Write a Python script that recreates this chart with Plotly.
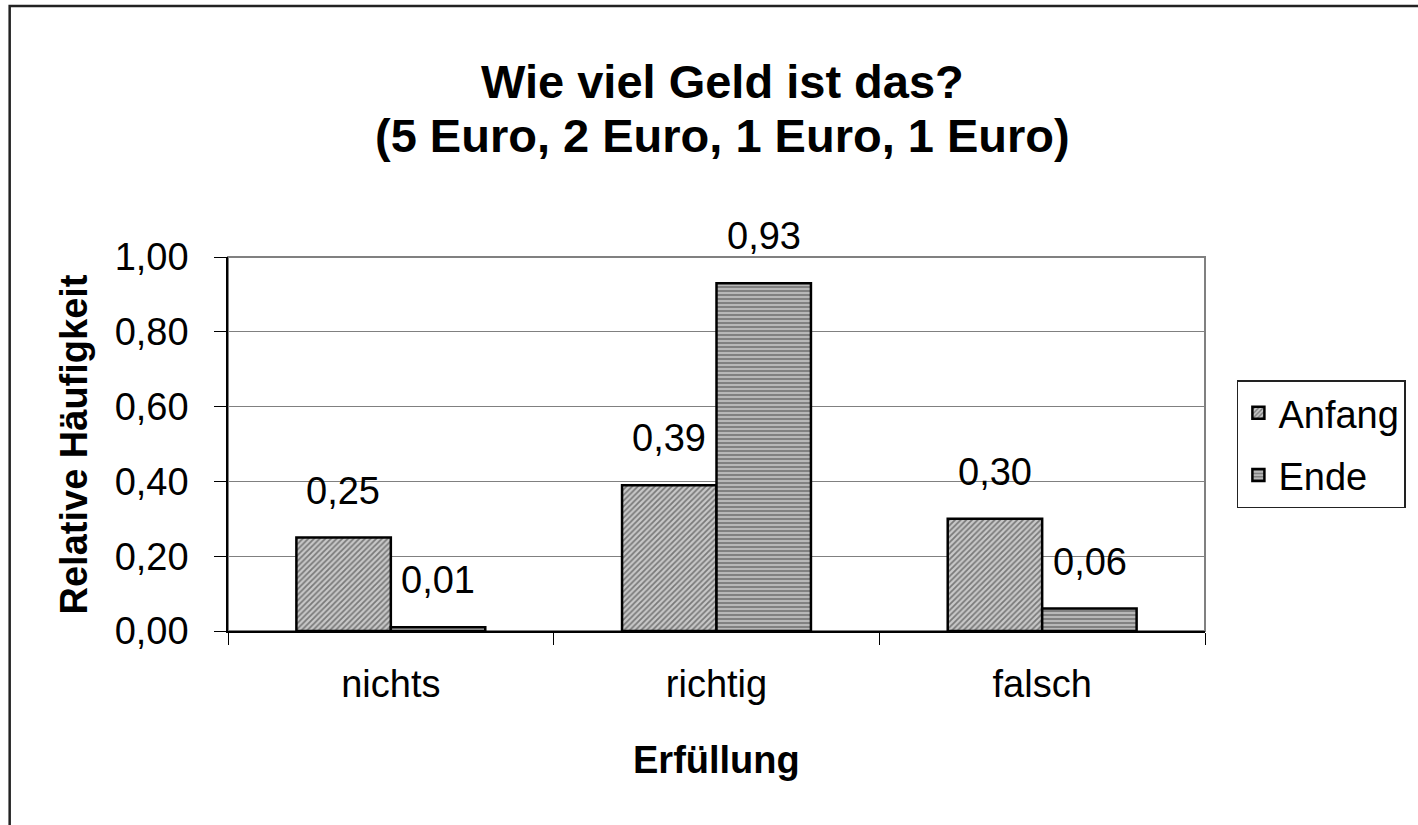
import plotly.graph_objects as go

# data
categories = ["nichts", "richtig", "falsch"]
anfang = [0.25, 0.39, 0.30]
ende = [0.01, 0.93, 0.06]
series_names = ["Anfang", "Ende"]
y_ticks = [0.0, 0.2, 0.4, 0.6, 0.8, 1.0]
title_lines = ["Wie viel Geld ist das?", "(5 Euro, 2 Euro, 1 Euro, 1 Euro)"]

W, H = 1418, 825
L, R, T, B = 228, 210, 257, 194
plot_w = W - L - R
plot_h = H - T - B
BARGAP = 0.42

FONT = "Liberation Sans, Arial, sans-serif"
LBL = 38


def de(v):
    # German decimal comma
    return f"{v:.2f}".replace(".", ",")


def px_x(px):
    return (px - L) / plot_w


def px_y(py):
    return (H - B - py) / plot_h


fig = go.Figure()

fig.add_trace(go.Bar(
    x=categories, y=anfang, name=series_names[0], legendgroup="a",
    marker=dict(color="#ffffff",
                line=dict(color="black", width=2.5),
                pattern=dict(shape="/", fgcolor="#2a2a2a", bgcolor="#c8c8c8",
                             size=4, solidity=0.45)),
))
fig.add_trace(go.Bar(
    x=categories, y=ende, name=series_names[1], legendgroup="e",
    marker=dict(color="#ffffff",
                line=dict(color="black", width=2.5),
                pattern=dict(shape="-", fgcolor="#4a4a4a", bgcolor="#b8b8b8",
                             size=4, solidity=0.5)),
))

# value labels above the bars
cat_w = plot_w / len(categories)
bar_w = cat_w * (1 - BARGAP) / 2
annos = []
for vals, off in ((anfang, -bar_w / 2), (ende, bar_w / 2)):
    for c, v in zip(categories, vals):
        annos.append(dict(x=c, y=v, xref="x", yref="y", text=de(v),
                          showarrow=False, yanchor="bottom", xshift=off, yshift=24,
                          font=dict(family=FONT, size=LBL, color="black")))

# two-line title, placed line by line for tighter spacing
for line, ypx in zip(title_lines, (82, 135)):
    annos.append(dict(x=px_x(724), y=px_y(ypx), xref="paper", yref="paper",
                      xanchor="center", yanchor="middle", showarrow=False,
                      text=f"<b>{line}</b>",
                      font=dict(family=FONT, size=47, color="black")))

# axis titles
annos.append(dict(x=px_x(74), y=0.5, xref="paper", yref="paper",
                  xanchor="center", yanchor="middle",
                  text="<b>Relative Häufigkeit</b>", textangle=-90, showarrow=False,
                  font=dict(family=FONT, size=LBL, color="black")))
annos.append(dict(x=0.5, y=px_y(760), xref="paper", yref="paper",
                  xanchor="center", yanchor="middle",
                  text="<b>Erfüllung</b>", showarrow=False,
                  font=dict(family=FONT, size=LBL, color="black")))

# chart area border: only its top and left edges fall inside the picture
bx, by = px_x(9), px_y(6)
border_path = f"M {bx} {px_y(H + 20)} L {bx} {by} L {px_x(W + 20)} {by}"

shapes = [
    dict(type="path", xref="paper", yref="paper", path=border_path,
         line=dict(color="#222222", width=2.5), layer="below"),
    # plot area border
    dict(type="rect", xref="paper", yref="paper", x0=0, x1=1, y0=0, y1=1,
         line=dict(color="#808080", width=2), layer="below"),
]

fig.update_layout(
    width=W, height=H,
    margin=dict(l=L, r=R, t=T, b=B),
    paper_bgcolor="white", plot_bgcolor="white",
    separators=",.",
    barmode="group", bargap=BARGAP, bargroupgap=0,
    font=dict(family=FONT, size=LBL, color="black"),
    legend=dict(x=px_x(1240), y=px_y(380), xanchor="left", yanchor="top",
                bordercolor="#222222", borderwidth=1.5, bgcolor="white",
                font=dict(family=FONT, size=LBL, color="black"),
                tracegroupgap=10, traceorder="grouped", itemwidth=30),
    annotations=annos,
    shapes=shapes,
)

fig.update_xaxes(
    showline=True, linecolor="black", linewidth=2,
    ticks="outside", tickson="boundaries", ticklen=12, tickcolor="black",
    ticklabelstandoff=18,
    showgrid=False, tickfont=dict(family=FONT, size=LBL, color="black"),
)
fig.update_yaxes(
    range=[0, 1], tickvals=y_ticks, tickformat=".2f",
    showline=True, linecolor="black", linewidth=1.5,
    ticks="outside", ticklen=12, tickcolor="black", ticklabelstandoff=18,
    showgrid=True, gridcolor="#808080", gridwidth=1,
    zeroline=False, tickfont=dict(family=FONT, size=LBL, color="black"),
)

fig.write_html("out.html", config={"displayModeBar": False},
               post_script="document.body.style.margin='0';document.body.style.overflow='hidden';")
